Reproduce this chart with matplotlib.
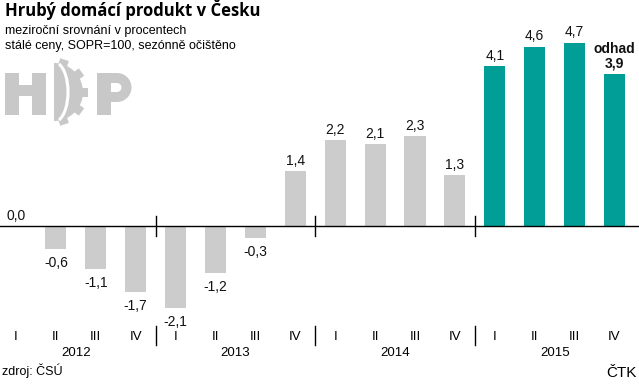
import matplotlib
matplotlib.use("Agg")
import matplotlib.pyplot as plt
from matplotlib.patches import Wedge, Rectangle, Arc
import matplotlib.transforms as mtrans
import numpy as np

plt.rcParams['font.family'] = ['Liberation Sans Narrow', 'Liberation Sans', 'DejaVu Sans']

# data
kvartaly = ["I", "II", "III", "IV"] * 4
roky = ["2012", "2013", "2014", "2015"]
hodnoty = [0.0, -0.6, -1.1, -1.7,
           -2.1, -1.2, -0.3, 1.4,
           2.2, 2.1, 2.3, 1.3,
           4.1, 4.6, 4.7, 3.9]
popisky = ["0,0", "-0,6", "-1,1", "-1,7",
           "-2,1", "-1,2", "-0,3", "1,4",
           "2,2", "2,1", "2,3", "1,3",
           "4,1", "4,6", "4,7", "odhad\n3,9"]

SEDA = "#cccccc"
TYRKYS = "#009e96"

fig = plt.figure(figsize=(6.39, 3.85), dpi=100)
ax = fig.add_axes([0, 0, 1, 1])
ax.set_xlim(-0.401, 15.614)
ax.set_ylim(-4.077, 5.795)
ax.axis("off")

x = np.arange(len(hodnoty))
barvy = [TYRKYS if i >= 12 else SEDA for i in x]
ax.bar(x, hodnoty, width=0.53, color=barvy, zorder=2)
ax.axhline(0, color="black", lw=1.0, zorder=3)

# oddelovace roku
trans = mtrans.blended_transform_factory(ax.transData, ax.transAxes)
for s in [3.5, 7.5, 11.5]:
    ax.plot([s, s], [-0.26, 0.26], color="black", lw=1.0, zorder=3)
    ax.plot([s, s], [0.104, 0.153], color="black", lw=1.0, transform=trans)

# popisky hodnot
for i, (v, t) in enumerate(zip(hodnoty, popisky)):
    if v >= 0:
        bold = "odhad" in t
        ax.annotate(t, (i, v), xytext=(0, 2.5), textcoords="offset points",
                    ha="center", va="bottom", fontsize=10,
                    fontweight="bold" if bold else "normal",
                    linespacing=1.0, color="#111111")
    else:
        ax.annotate(t, (i, v), xytext=(0, -5), textcoords="offset points",
                    ha="center", va="top", fontsize=10, color="#111111")

# osa x
for i, q in enumerate(kvartaly):
    ax.text(i, 0.1247, q, transform=trans, ha="center", va="center", fontsize=9.5)
for k, r in enumerate(roky):
    ax.text(4 * k + 1.5, 0.083, r, transform=trans, ha="center", va="center", fontsize=9.5)

# texty a logo v pixelech
ov = fig.add_axes([0, 0, 1, 1], zorder=-1)
ov.set_xlim(0, 639)
ov.set_ylim(385, 0)
ov.axis("off")

ov.text(5, 10, "Hrubý domácí produkt v Česku", fontsize=12, fontweight="bold",
        family=["Open Sans", "DejaVu Sans"], va="center", ha="left")
ov.text(5, 31, "meziroční srovnání v procentech", fontsize=9, va="center")
ov.text(5, 46, "stálé ceny, SOPR=100, sezónně očištěno", fontsize=9, va="center")
ov.text(2, 371, "zdroj: ČSÚ", fontsize=9, va="center")
ov.text(637, 373, "ČTK", fontsize=11, va="center", ha="right")

# logo HDP
LOGO = "#c8c8c8"
def obd(x0, y0, w, h, c=LOGO):
    ov.add_patch(Rectangle((x0, y0), w, h, color=c, lw=0))

# H
obd(5, 73, 14, 42)
obd(32, 73, 14, 42)
obd(19, 85, 13, 11)
# D jako ozubene kolo
cx, cy = 54, 92
ov.add_patch(Wedge((cx, cy), 29, -90, 90, color=LOGO, lw=0))
for ang in [72, 36, 0, -36, -72]:
    a = np.deg2rad(ang)
    zub = Rectangle((20, -4.5), 14, 9, color=LOGO, lw=0)
    zub.set_transform(mtrans.Affine2D().rotate(a).translate(cx, cy) + ov.transData)
    ov.add_patch(zub)
ov.add_patch(Arc((cx, cy), 28, 60, theta1=-80, theta2=80, color="white", lw=2.2))
# P
obd(97, 73, 20, 29)
obd(97, 73, 14, 42)
ov.add_patch(Wedge((117, 87.5), 14.5, -90, 90, color=LOGO, lw=0))
obd(111, 83, 6, 9, "white")
ov.add_patch(Wedge((117, 87.5), 4.5, -90, 90, color="white", lw=0))

fig.savefig("out.png", dpi=100)
